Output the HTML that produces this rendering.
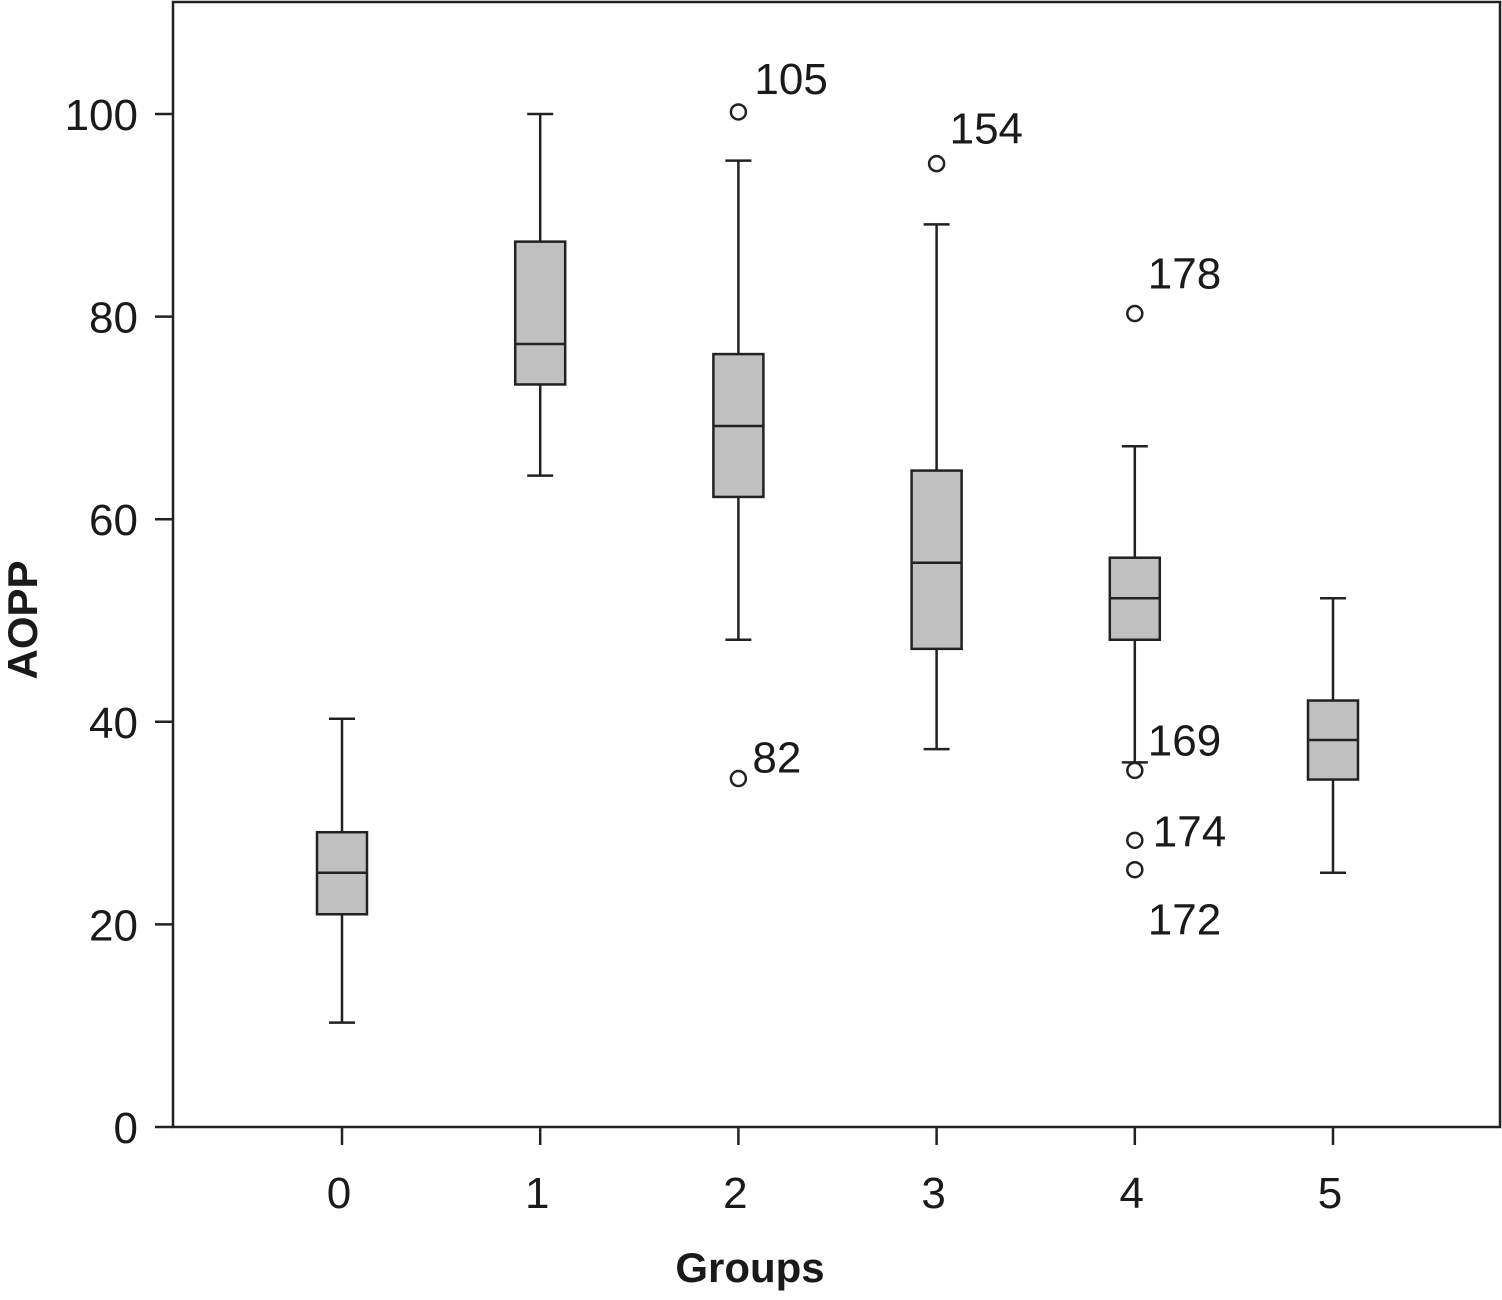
<!DOCTYPE html>
<html><head><meta charset="utf-8"><style>
body{margin:0;background:#fff}
svg text{font-family:"Liberation Sans",sans-serif;fill:#1a1a1a}
</style></head><body>
<svg id="chart" width="1502" height="1295" xmlns="http://www.w3.org/2000/svg">
<rect x="173" y="2" width="1327" height="1125" fill="none" stroke="#222" stroke-width="2.5"/>
<g id="axes"></g><g id="boxes"></g>
<text x="750" y="1282" font-size="42" font-weight="bold" text-anchor="middle">Groups</text>
<text transform="translate(37,620) rotate(-90)" font-size="42" font-weight="bold" text-anchor="middle">AOPP</text>
</svg>
<script>
const categories=["0","1","2","3","4","5"];
const whiskerLow=[10.3,64.3,48.1,37.3,36.0,25.1];
const q1=[21.0,73.3,62.2,47.2,48.1,34.3];
const medians=[25.1,77.3,69.2,55.7,52.2,38.2];
const q3=[29.1,87.4,76.3,64.8,56.2,42.1];
const whiskerHigh=[40.3,100,95.4,89.1,67.2,52.2];
const outlierGroup=[2,2,3,4,4,4,4];
const outlierValue=[100.2,34.4,95.1,80.3,35.2,28.3,25.4];
const outlierLabel=["105","82","154","178","169","174","172"];
const yTicks=[0,20,40,60,80,100];
const NS="http://www.w3.org/2000/svg";
const y=v=>1127-v*10.13;
const x=i=>342+i*198.2;
function mk(t,a,p){const e=document.createElementNS(NS,t);for(const k in a)e.setAttribute(k,a[k]);p.appendChild(e);return e;}
const ax=document.getElementById('axes'),bx=document.getElementById('boxes');
yTicks.forEach(v=>{
 const l=mk('line',{x1:155,x2:173,y1:y(v),y2:y(v),stroke:'#222','stroke-width':2.5},ax);
 
 
 const t=mk('text',{x:138,y:y(v)+16,'font-size':44,'text-anchor':'end'},ax);t.textContent=v;
 
 
});
categories.forEach((c,i)=>{
 const l=mk('line',{x1:x(i),x2:x(i),y1:1127,y2:1145,stroke:'#222','stroke-width':2.5},ax);
 
 
 const t=mk('text',{x:x(i)-3,y:1208,'font-size':44,'text-anchor':'middle'},ax);t.textContent=c;
 
 
 const g=mk('g',{},bx);
 
 
 const s={stroke:'#222','stroke-width':2.5};
 mk('line',{x1:x(i),x2:x(i),y1:y(whiskerHigh[i]),y2:y(q3[i]),...s},g);
 mk('line',{x1:x(i),x2:x(i),y1:y(q1[i]),y2:y(whiskerLow[i]),...s},g);
 mk('line',{x1:x(i)-13,x2:x(i)+13,y1:y(whiskerHigh[i]),y2:y(whiskerHigh[i]),...s},g);
 mk('line',{x1:x(i)-13,x2:x(i)+13,y1:y(whiskerLow[i]),y2:y(whiskerLow[i]),...s},g);
 mk('rect',{x:x(i)-25,y:y(q3[i]),width:50,height:y(q1[i])-y(q3[i]),fill:'#c0c0c0',...s},g);
 mk('line',{x1:x(i)-25,x2:x(i)+25,y1:y(medians[i]),y2:y(medians[i]),...s},g);
});
const offs={"105":[16,-18],"82":[14,-6],"154":[13,-20],"178":[13,-25],"169":[13,-15],"174":[18,6],"172":[13,65]};
outlierValue.forEach((v,k)=>{
 const cx=x(outlierGroup[k]);
 const c=mk('circle',{cx:cx,cy:y(v),r:7.5,fill:'#fff',stroke:'#222','stroke-width':2.5},bx);
 
 
 const o=offs[outlierLabel[k]]||[15,-10];
 const t=mk('text',{x:cx+o[0],y:y(v)+o[1],'font-size':44},bx);t.textContent=outlierLabel[k];
 
 
});
</script>
</body></html>
